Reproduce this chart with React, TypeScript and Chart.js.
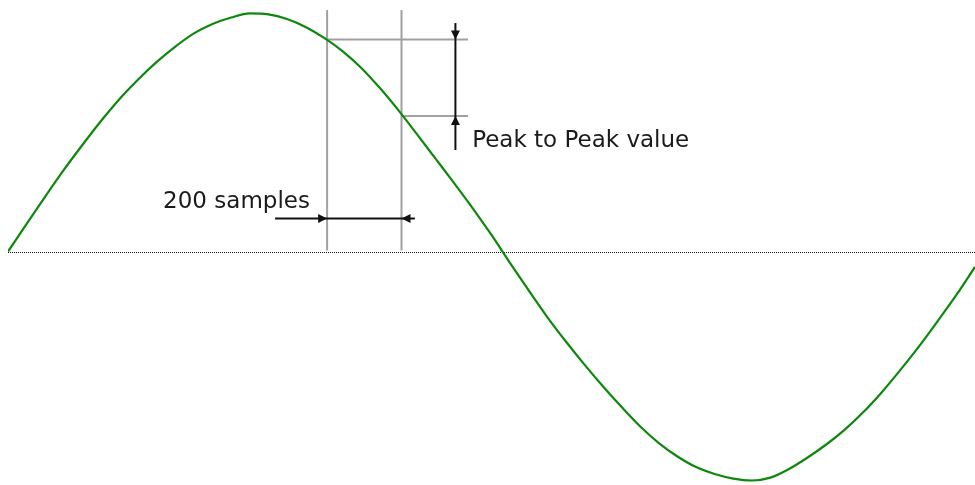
import React, { useEffect, useRef } from "react";
import { Chart, registerables } from "chart.js";

Chart.register(...registerables);

// Sample index (x) and normalised signal value (y)
const SAMPLES = [
  0, 50, 100, 150, 200, 250, 300, 350, 400, 450, 500, 550, 600, 650, 700, 750, 800, 850, 900, 950,
  1000, 1050, 1100, 1150, 1200, 1250, 1300, 1350, 1400, 1450, 1500, 1550, 1600, 1650, 1700, 1750,
  1800, 1850, 1900, 1950, 2000, 2050, 2100, 2150, 2200, 2250, 2300, 2350, 2400, 2450, 2500, 2550, 2600,
];
const SIGNAL = [
  0.004, 0.119, 0.233, 0.344, 0.448, 0.548, 0.64, 0.721, 0.794, 0.858, 0.913, 0.952, 0.979, 0.996,
  0.992, 0.973, 0.94, 0.894, 0.838, 0.769, 0.685, 0.592, 0.492, 0.39, 0.288, 0.183, 0.073, -0.044,
  -0.158, -0.269, -0.371, -0.467, -0.558, -0.644, -0.725, -0.794, -0.85, -0.894, -0.923, -0.942,
  -0.95, -0.938, -0.902, -0.854, -0.8, -0.738, -0.665, -0.581, -0.488, -0.39, -0.285, -0.177, -0.06,
];

// Cursor positions (samples) and the signal levels they mark
const CURSOR_SAMPLES = [858, 1058];
const CURSOR_LEVELS = [0.8875, 0.569];
const CURSOR_TOP = 1.01;
const LEVEL_LINE_END = 1237;
const P2P_ARROW_X = 1203;
const P2P_ARROW_RANGE = [0.956, 0.427];
const SAMPLE_ARROW_Y = 0.142;
const SAMPLE_ARROW_RANGE = [718, 1094];
const LABELS = ["200 samples", "Peak to Peak value"];
const LABEL_POS = [
  [417, 0.184],
  [1248, 0.44],
];

const X_MIN = 0;
const X_MAX = 2600;
const Y_MIN = -0.96875;
const Y_MAX = 1.05208;

function arrowHead(ctx: CanvasRenderingContext2D, tx: number, ty: number, dx: number, dy: number) {
  const len = 9;
  const half = 4.5;
  const bx = tx - dx * len;
  const by = ty - dy * len;
  ctx.beginPath();
  ctx.moveTo(tx, ty);
  ctx.lineTo(bx - dy * half, by + dx * half);
  ctx.lineTo(bx + dy * half, by - dx * half);
  ctx.closePath();
  ctx.fill();
}

const annotationPlugin = {
  id: "scopeAnnotations",
  beforeDatasetsDraw(chart: any) {
    const { ctx, scales } = chart;
    const xs = scales.x;
    const ys = scales.y;
    ctx.save();
    // dotted zero line
    ctx.strokeStyle = "#111";
    ctx.lineWidth = 1;
    ctx.setLineDash([1, 1]);
    const y0 = Math.round(ys.getPixelForValue(0)) + 0.5;
    ctx.beginPath();
    ctx.moveTo(xs.getPixelForValue(X_MIN), y0);
    ctx.lineTo(xs.getPixelForValue(X_MAX), y0);
    ctx.stroke();
    ctx.setLineDash([]);
    // gray cursor lines
    ctx.strokeStyle = "#a0a0a0";
    ctx.lineWidth = 2;
    CURSOR_SAMPLES.forEach((s, i) => {
      const px = xs.getPixelForValue(s);
      ctx.beginPath();
      ctx.moveTo(px, ys.getPixelForValue(CURSOR_TOP));
      ctx.lineTo(px, ys.getPixelForValue(0) - 2);
      ctx.stroke();
      const py = ys.getPixelForValue(CURSOR_LEVELS[i]);
      ctx.beginPath();
      ctx.moveTo(px, py);
      ctx.lineTo(xs.getPixelForValue(LEVEL_LINE_END), py);
      ctx.stroke();
    });
    ctx.restore();
  },
  afterDatasetsDraw(chart: any) {
    const { ctx, scales } = chart;
    const xs = scales.x;
    const ys = scales.y;
    ctx.save();
    ctx.strokeStyle = "#111";
    ctx.fillStyle = "#111";
    ctx.lineWidth = 2;
    // peak-to-peak vertical arrow
    const ax = xs.getPixelForValue(P2P_ARROW_X);
    ctx.beginPath();
    ctx.moveTo(ax, ys.getPixelForValue(P2P_ARROW_RANGE[0]));
    ctx.lineTo(ax, ys.getPixelForValue(P2P_ARROW_RANGE[1]));
    ctx.stroke();
    arrowHead(ctx, ax, ys.getPixelForValue(CURSOR_LEVELS[0]), 0, 1);
    arrowHead(ctx, ax, ys.getPixelForValue(CURSOR_LEVELS[1]), 0, -1);
    // samples horizontal arrow
    const ay = ys.getPixelForValue(SAMPLE_ARROW_Y);
    ctx.beginPath();
    ctx.moveTo(xs.getPixelForValue(SAMPLE_ARROW_RANGE[0]), ay);
    ctx.lineTo(xs.getPixelForValue(SAMPLE_ARROW_RANGE[1]), ay);
    ctx.stroke();
    arrowHead(ctx, xs.getPixelForValue(CURSOR_SAMPLES[0]), ay, 1, 0);
    arrowHead(ctx, xs.getPixelForValue(CURSOR_SAMPLES[1]), ay, -1, 0);
    // labels
    ctx.fillStyle = "#1a1a1a";
    ctx.font = '23px "DejaVu Sans"';
    ctx.textAlign = "left";
    ctx.textBaseline = "alphabetic";
    LABELS.forEach((t, i) => {
      ctx.fillText(t, xs.getPixelForValue(LABEL_POS[i][0]), ys.getPixelForValue(LABEL_POS[i][1]));
    });
    ctx.restore();
  },
};

export default function App() {
  const ref = useRef<HTMLCanvasElement | null>(null);
  useEffect(() => {
    if (!ref.current) return;
    const chart = new Chart(ref.current, {
      type: "line",
      data: {
        datasets: [
          {
            data: SAMPLES.map((s, i) => ({ x: s, y: SIGNAL[i] })),
            borderColor: "#0d880d",
            borderWidth: 2.2,
            pointRadius: 0,
            cubicInterpolationMode: "monotone",
            fill: false,
          },
        ],
      },
      options: {
        animation: false,
        responsive: false,
        events: [],
        layout: { padding: { left: 8, right: 0, top: 0, bottom: 0 } },
        plugins: { legend: { display: false }, tooltip: { enabled: false } },
        scales: {
          x: { type: "linear", min: X_MIN, max: X_MAX, display: false },
          y: { type: "linear", min: Y_MIN, max: Y_MAX, display: false },
        },
      },
      plugins: [annotationPlugin],
    });
    return () => chart.destroy();
  }, []);
  return (
    <div style={{ position: "fixed", left: 0, top: 0, width: 975, height: 485, background: "#fff" }}>
      <canvas ref={ref} width={975} height={485} style={{ display: "block" }} />
    </div>
  );
}
